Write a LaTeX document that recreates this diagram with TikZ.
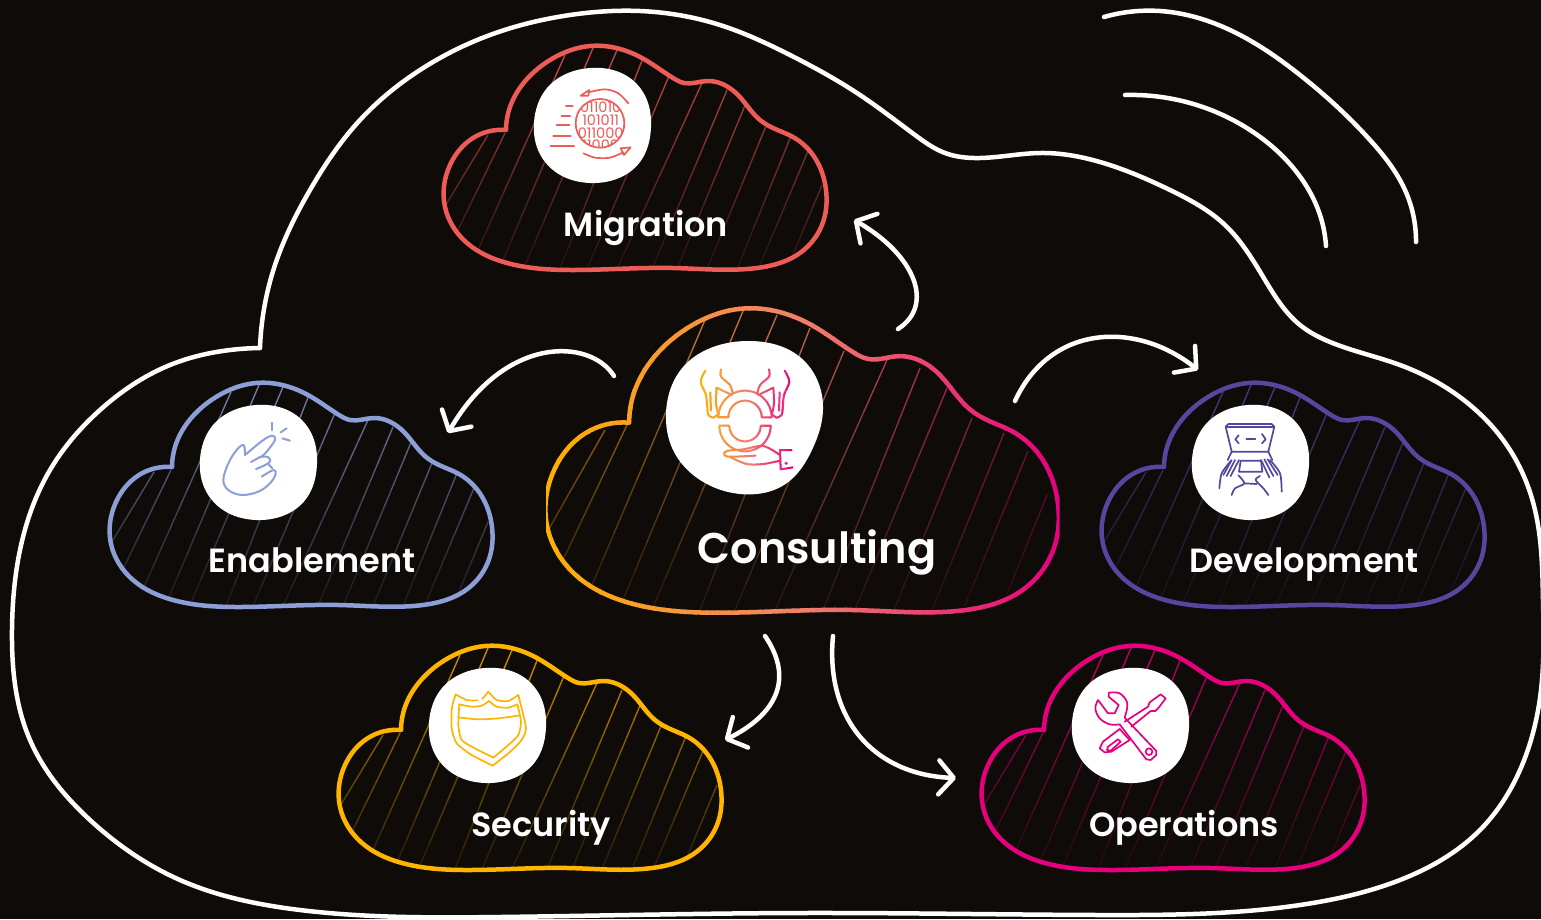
\documentclass[tikz,border=0pt]{standalone}
\usepackage{fontspec}
\setmainfont{Poppins}
\newfontfamily\labelfont{Poppins SemiBold}
\usetikzlibrary{arrows.meta,hobby}
\definecolor{bg}{HTML}{0F0B08}
\definecolor{cMig}{HTML}{EE5C58}
\definecolor{cEna}{HTML}{8C9FD6}
\definecolor{cDev}{HTML}{55479E}
\definecolor{cSec}{HTML}{FFB400}
\definecolor{cOps}{HTML}{E6007E}
\definecolor{gY}{HTML}{FFB000}
\definecolor{gS}{HTML}{F0806A}
\definecolor{gM}{HTML}{E6007E}
% outline of one cloud, in the coordinates of the Migration cloud
\newcommand{\CloudPath}{(506,130)..(509,110)..(522,85)..(550,60)..(590,46)..(642,58)..(673,78)..(684,83)..(707,81)..(738,95)..(760,120)..(773,128)..(793,137)..(815,158)..(826,190)..(822,225)..(797,255)..(757,268)..(673,268)..(573,270)..(507,263)..(467,243)..(445,207)..(450,165)..(473,138)..(506,130)}
\newcommand{\BlobPath}{([closed]590,68)..(627,76)..(647,100)..(651,127)..(640,162)..(590,183)..(557,173)..(538,150)..(534,122)..(547,88)}
\newcommand{\SetGrad}[1]{%
  \pgfmathsetmacro\gradQ{min(max(#1,0),1)*200}%
  \ifdim\gradQ pt<100pt \colorlet{gc}{gS!\gradQ!gY}%
  \else\pgfmathsetmacro\gradR{\gradQ-100}\colorlet{gc}{gM!\gradR!gS}\fi}
% draws #3 once per vertical strip between #1 and #2, in colour gc
\newcommand{\GradDraw}[3]{%
  \foreach \gi in {0,...,47}{%
    \pgfmathsetmacro\ga{#1+(#2-#1)/48*\gi}%
    \pgfmathsetmacro\gb{#1+(#2-#1)/48*(\gi+1.15)}%
    \SetGrad{(\gi+.5)/48}%
    \begin{scope}\clip (\ga,-50) rectangle (\gb,1000);#3\end{scope}}}
% hatch line that fades downwards; colour given by gradient over xmin..xmax
\newcommand{\HatchLine}[4]{%
  \foreach \hk in {0,...,9}{%
    \pgfmathsetmacro\xa{#1+(#3-#1)*\hk/10}\pgfmathsetmacro\ya{#2+(#4-#2)*\hk/10}%
    \pgfmathsetmacro\xb{#1+(#3-#1)*(\hk+1.05)/10}\pgfmathsetmacro\yb{#2+(#4-#2)*(\hk+1.05)/10}%
    \pgfmathsetmacro\hfade{max(12,min(78,78-70/(\hBot-\hTop)*((\ya+\yb)/2-\hTop)))}%
    \SetGrad{((\xa+\xb)/2-\hL)/(\hR-\hL)}%
    \colorlet{hc}{gc!\hfade!bg}%
    \draw[hatchline,hc] (\xa,\ya) -- (\xb,\yb);}}
\newcommand{\SmallHatch}{%
  \def\hL{440}\def\hR{830}\def\hTop{50}\def\hBot{270}%
  \HatchLine{488}{135}{447}{203}\HatchLine{505}{133}{457}{232}\HatchLine{565}{55}{478}{250}%
  \HatchLine{593}{48}{503}{260}\HatchLine{617}{50}{526}{263}\HatchLine{643}{58}{560}{269}%
  \HatchLine{669}{76}{587}{269}\HatchLine{702}{83}{617}{269}\HatchLine{727}{90}{652}{269}%
  \HatchLine{746}{103}{677}{269}\HatchLine{766}{126}{707}{269}\HatchLine{791}{136}{737}{269}%
  \HatchLine{808}{151}{760}{265}\HatchLine{822}{185}{792}{257}}
% one small cloud: dx, dy, colour
\newcommand{\SmallCloud}[3]{%
  \begin{scope}[shift={(#1,#2)}]
    \colorlet{gY}{#3}\colorlet{gS}{#3}\colorlet{gM}{#3}
    \begin{scope}\clip[use Hobby shortcut] \CloudPath;\SmallHatch\end{scope}
    \fill[white,use Hobby shortcut] \BlobPath;
    \draw[cloudline,#3,use Hobby shortcut] \CloudPath;
  \end{scope}}
\tikzset{
  bigcloud/.style={shift={(546,310)},xscale=1.3403,yscale=1.3575,shift={(-444,-47)}},
  cloudline/.style={line width=4.5pt,line join=round,line cap=round},
  hatchline/.style={line width=1.4pt},
  flow/.style={draw=white,line width=4.5pt,line cap=round,-{Straight Barb[length=15pt,width=34pt,round]}},
  frameline/.style={draw=white,line width=4.5pt,line cap=round,line join=round,use Hobby shortcut},
  cloudlabel/.style={text=white,inner sep=0pt,anchor=base,font=\labelfont\fontsize{33.5}{36}\selectfont},
  icon/.style={line width=2pt,line cap=round,line join=round},
  iconthin/.style={line width=1.7pt,line cap=round,line join=round},
}
\begin{document}
\begin{tikzpicture}[x=1pt,y=-1pt]
\fill[bg] (0,0) rectangle (1541,919);
\useasboundingbox (0,0) rectangle (1541,919);
% big outer cloud and the two echo lines
\draw[frameline] (260,348)..(275,265)..(310,190)..(360,120)..(420,70)..(490,35)..(570,15)..(640,11)..(720,25)..(790,55)..(860,95)..(915,135)..(945,153)..(980,158)..(1040,153)..(1100,162)..(1170,190)..(1225,225)..(1265,280)..(1300,325)..(1330,342)..(1400,365)..(1470,405)..(1510,450)..(1535,510)..(1543,600)..(1541,690)..(1520,770)..(1480,830)..(1400,880)..(1300,905)..(1100,915)..(800,913)..(500,917)..(300,910)..(180,880)..(90,820)..(30,740)..(12,630)..(20,550)..(50,470)..(100,410)..(170,365)..(230,350)..(260,348);
\draw[frameline] (1104,17)..(1160,11)..(1230,30)..(1300,75)..(1370,140)..(1405,190)..(1416,242);
\draw[frameline] (1125,95)..(1190,103)..(1250,130)..(1295,170)..(1320,215)..(1326,246);
% small clouds
\SmallCloud{0}{0}{cMig}
\SmallCloud{-334}{337}{cEna}
\SmallCloud{658}{337}{cDev}
\SmallCloud{-105}{600}{cSec}
\SmallCloud{538}{600}{cOps}
% central cloud
\begin{scope}
  \def\hL{546}\def\hR{1058}\def\hTop{315}\def\hBot{610}
  \clip[bigcloud,use Hobby shortcut] \CloudPath;
  \HatchLine{605}{430}{550}{527}\HatchLine{627}{425}{563}{560}\HatchLine{705}{320}{592}{585}
  \HatchLine{743}{311}{623}{600}\HatchLine{777}{315}{653}{607}\HatchLine{810}{328}{700}{610}
  \HatchLine{844}{351}{735}{610}\HatchLine{887}{360}{775}{610}\HatchLine{920}{368}{823}{610}
  \HatchLine{947}{388}{855}{610}\HatchLine{972}{418}{894}{610}\HatchLine{1004}{433}{932}{610}
  \HatchLine{1028}{451}{965}{605}\HatchLine{1047}{495}{1007}{594}
\end{scope}
\fill[white,use Hobby shortcut] ([closed]750,341)..(800,357)..(823,410)..(812,450)..(787,483)..(740,494)..(700,480)..(673,450)..(666,413)..(683,367)..(713,347);
\GradDraw{546}{1058}{\draw[cloudline,gc,bigcloud,use Hobby shortcut] \CloudPath;}
% Consulting icon
\GradDraw{700}{793}{\begin{scope}[shift={(650,340)},scale=.33333]
  \draw[icon,gc] plot[domain=0:180,samples=30] ({285+80*cos(\x)},{232-80*sin(\x)}) -- (235,232) -- plot[domain=180:0,samples=30] ({285+50*cos(\x)},{232-50*sin(\x)}) -- (365,232);
  \draw[icon,gc] (205,232) -- (235,232);
  \draw[icon,gc] plot[domain=180:360,samples=30] ({285+77*cos(\x)},{257-77*sin(\x)}) -- (332,257) -- plot[domain=360:180,samples=30] ({285+47*cos(\x)},{257-47*sin(\x)}) -- (208,257) ;
  \draw[icon,gc] (332,257) -- (362,257);
  \draw[icon,gc] plot[smooth] coordinates{(166,92)(152,125)(168,165)(172,205)(175,225)(190,233)(201,225)};
  \draw[icon,gc] (181,157) -- (183,212);
  \draw[icon,gc] plot[smooth] coordinates{(205,225)(198,190)(200,143)} -- (245,165);
  \draw[icon,gc] plot[smooth] coordinates{(213,88)(213,110)(240,135)(248,160)};
  \draw[icon,gc] plot[smooth] coordinates{(404,92)(418,125)(402,165)(398,205)(395,225)(380,233)(369,225)};
  \draw[icon,gc] (389,157) -- (387,212);
  \draw[icon,gc] plot[smooth] coordinates{(365,225)(372,190)(370,143)} -- (325,165);
  \draw[icon,gc] plot[smooth] coordinates{(357,88)(357,110)(330,135)(322,160)};
  \draw[icon,gc] plot[smooth] coordinates{(316,347)(235,350)(222,340)(235,332)(280,328)(340,318)(390,345)};
  \draw[icon,gc] plot[smooth] coordinates{(240,351)(290,372)(340,372)(390,362)};
  \draw[icon,gc] (425,330) -- (390,330) -- (392,388) -- (430,382);
  \fill[gc] (408,370) circle[radius=5pt];
\end{scope}}
% Migration icon
\begin{scope}[shift={(530,65)},scale=.33333]
  \begin{scope}
   \clip (210,175) circle[radius=73pt];
   \foreach \dy/\dt in {128/011010,167/101011,205/011000,240/11000}{
     \node[inner sep=0pt,text=cMig,font=\fontsize{14.5}{15}\selectfont] at (212,\dy) {\dt};}
  \end{scope}
  \draw[iconthin,cMig] (210,175) circle[radius=73pt];
  \foreach \ya/\xa/\xb in {124/108/128,152/95/120,181/80/118,212/70/122,243/62/132}{\draw[icon,cMig] (\xa,\ya) -- (\xb,\ya);}
  \draw[iconthin,cMig] plot[smooth] coordinates{(295,115)(265,85)(225,73)(175,82)};
  \draw[iconthin,cMig] (152,92) -- (178,75) -- (175,92) -- cycle;
  \draw[iconthin,cMig] plot[smooth] coordinates{(160,265)(195,278)(240,278)(280,262)};
  \draw[iconthin,cMig] (302,247) -- (272,250) -- (282,270) -- cycle;
\end{scope}
% Enablement icon
\begin{scope}[shift={(195,400)},scale=.33333]
  \draw[icon,cEna] plot[smooth,tension=.6] coordinates{(200,230)(235,210)(242,222)(225,250)(190,275)(140,285)(100,270)(85,240)(100,190)(125,150)(146,135)(150,165)};
  \draw[icon,cEna] plot[smooth,tension=.6] coordinates{(150,165)(205,120)(232,107)(240,120)(215,155)(197,172)};
  \draw[icon,cEna] (168,186) -- (197,170);
  \draw[icon,cEna] plot[smooth,tension=.7] coordinates{(197,170)(220,172)(222,188)(183,207)};
  \draw[icon,cEna] plot[smooth,tension=.7] coordinates{(218,190)(232,205)};
  \draw[icon,cEna] (232,68) -- (232,90);
  \draw[icon,cEna] (257,97) -- (275,85);
  \draw[icon,cEna] (262,115) -- (285,122);
\end{scope}
% Development icon
\begin{scope}[shift={(1185,400)},scale=.33333]
  \draw[iconthin,cDev] (140,155) -- (122,80) -- (130,72) -- (260,72) -- (268,80) -- (250,155) -- cycle;
  \draw[iconthin,cDev] (125,82) -- (265,82);
  \draw[iconthin,cDev] (161,106) -- (151,118) -- (161,130);
  \draw[iconthin,cDev] (231,102) -- (242,118) -- (231,130);
  \draw[iconthin,cDev] (184,117) -- (211,117);
  \draw[iconthin,cDev] (140,155) -- (128,180);
  \draw[iconthin,cDev] (250,155) -- (262,180);
  \draw[iconthin,cDev] (167,182) -- (228,182) -- (232,215) -- (162,215) -- cycle;
  \draw[iconthin,cDev] plot[smooth] coordinates{(103,265)(110,220)(138,182)};
  \draw[iconthin,cDev] (115,225) -- (140,180);
  \draw[iconthin,cDev] (125,228) -- (150,180);
  \draw[iconthin,cDev] (137,228) -- (162,180);
  \draw[iconthin,cDev] plot[smooth] coordinates{(140,285)(150,265)(178,250)(160,226)};
  \draw[iconthin,cDev] (178,250) -- (215,252);
  \draw[iconthin,cDev] plot[smooth] coordinates{(290,275)(285,220)(255,180)};
  \draw[iconthin,cDev] (278,225) -- (248,178);
  \draw[iconthin,cDev] (265,228) -- (238,178);
  \draw[iconthin,cDev] (253,232) -- (228,180);
  \draw[iconthin,cDev] plot[smooth] coordinates{(250,285)(235,265)(212,240)(225,228)};
\end{scope}
% Security icon
\begin{scope}[shift={(425,665)},scale=.33333]
  \draw[iconthin,cSec] plot[smooth,tension=.4] coordinates{(158,106)(125,105)(92,88)};
  \draw[iconthin,cSec] plot[smooth,tension=.4] coordinates{(92,88)(85,110)(80,135)(80,190)(95,235)(140,270)(203,302)};
  \draw[iconthin,cSec] plot[smooth,tension=.4] coordinates{(172,102)(190,80)};
  \draw[iconthin,cSec] plot[smooth,tension=.4] coordinates{(190,80)(215,105)(250,108)(280,90)};
  \draw[iconthin,cSec] plot[smooth,tension=.4] coordinates{(280,90)(290,130)(303,190)(290,225)(250,265)(203,302)};
  \draw[iconthin,cSec] plot[smooth,tension=.4] coordinates{(103,118)(140,125)(170,122)(192,108)};
  \draw[iconthin,cSec] plot[smooth,tension=.4] coordinates{(192,108)(215,125)(250,128)(277,118)};
  \draw[iconthin,cSec] plot[smooth,tension=.4] coordinates{(277,118)(288,170)(280,210)(250,240)(205,278)};
  \draw[iconthin,cSec] plot[smooth,tension=.4] coordinates{(103,118)(100,180)(110,225)(150,250)(205,278)};
  \draw[iconthin,cSec] plot[smooth,tension=.4] coordinates{(100,157)(160,163)(220,160)(280,152)};
\end{scope}
% Operations icon
\begin{scope}[shift={(1068,665)},scale=.33333]
  \draw[iconthin,cOps] (90,105) -- (120,145) -- (140,145) -- (152,120) -- (122,95) -- (122,83) plot[smooth,tension=.6] coordinates{(122,83)(155,85)(178,115)(170,158)} -- (265,258) -- (265,270) -- (248,285) -- (235,283) -- (155,178) plot[smooth,tension=.6] coordinates{(155,178)(125,178)(95,160)(82,130)(90,105)};
  \draw[iconthin,cOps] (243,260) circle[radius=10pt];
  \draw[iconthin,cOps] (190,185) -- (248,138) -- (262,138) -- (272,128) -- (293,100) -- (278,88) -- (245,112) -- (240,125) -- (170,170);
  \draw[iconthin,cOps] (155,192) -- (105,230) -- (95,250) -- (110,262) -- (130,260) -- (185,225);
  \draw[iconthin,cOps] (155,192) -- (185,225);
  \draw[iconthin,cOps] (120,245) -- (150,223) -- (158,230) -- (128,257) -- (117,255) -- cycle;
\end{scope}
% labels
\node[cloudlabel] (migration) at (646,236) {Migration};
\node[cloudlabel] (enablement) at (312,572) {Enablement};
\node[cloudlabel] (development) at (1304,572) {Development};
\node[cloudlabel] (security) at (541,836) {Security};
\node[cloudlabel] (operations) at (1184,836) {Operations};
\node[cloudlabel,font=\labelfont\fontsize{43}{46}\selectfont] (consulting) at (817,563) {Consulting};
% arrows
\coordinate (a1s) at (898,329); \coordinate (a1e) at (854,220);
\coordinate (a2s) at (614,376); \coordinate (a2e) at (448,433);
\coordinate (a3s) at (1015,401); \coordinate (a3e) at (1198,370);
\coordinate (a4s) at (765,636); \coordinate (a4e) at (725,740);
\coordinate (a5s) at (833,636); \coordinate (a5e) at (956,778);
\draw[flow] (a1s) .. controls (935,305) and (915,255) .. (a1e);
\draw[flow] (a2s) .. controls (590,338) and (505,335) .. (a2e);
\draw[flow] (a3s) .. controls (1050,325) and (1135,320) .. (a3e);
\draw[flow] (a4s) .. controls (795,680) and (775,715) .. (a4e);
\draw[flow] (a5s) .. controls (825,720) and (875,775) .. (a5e);
\end{tikzpicture}
\end{document}
